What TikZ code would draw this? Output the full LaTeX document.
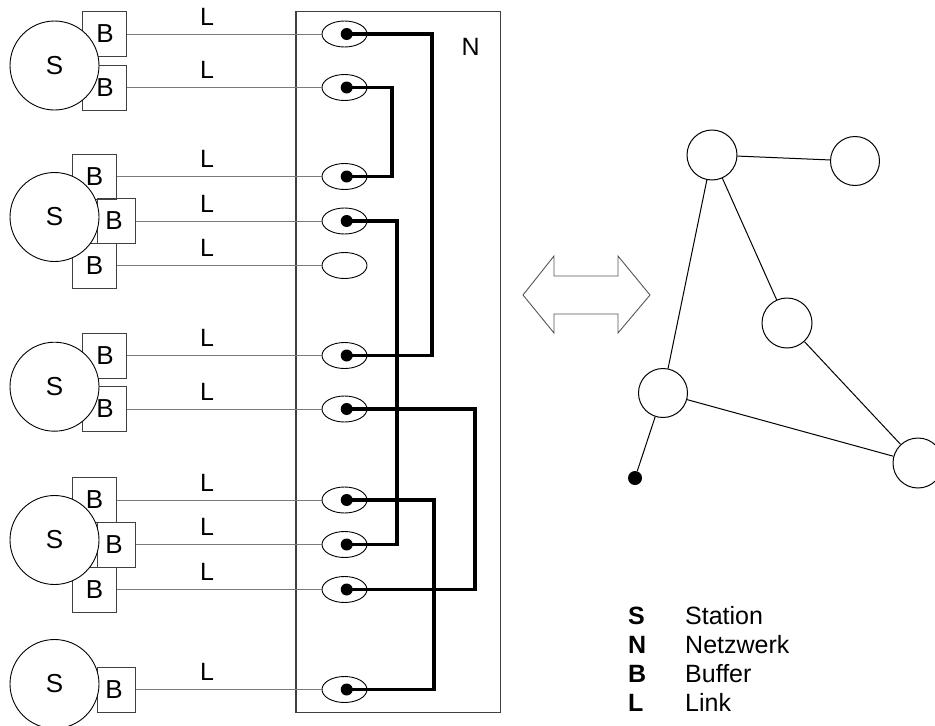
\documentclass[tikz,border=0pt]{standalone}
\usepackage{fontspec}
\setmainfont{Liberation Sans}
\usetikzlibrary{shapes.geometric}
\definecolor{linkgray}{HTML}{7A7A7A}
\definecolor{boxgray}{HTML}{404040}
\definecolor{arrgray}{HTML}{555555}
\tikzset{
  txt/.style={font=\fontsize{26}{30}\selectfont, inner sep=0pt},
  bufbox/.style={draw=boxgray, line width=1pt, minimum height=45pt, inner sep=0pt},
  bufw/.style={bufbox, minimum width=44pt},
  bufn/.style={bufbox, minimum width=38pt},
  station/.style={circle, draw=black, line width=0.9pt, fill=white, minimum size=89pt, inner sep=0pt, font=\fontsize{26}{30}\selectfont},
  ell/.style={ellipse, draw=black, line width=0.9pt, minimum width=45pt, minimum height=26pt, inner sep=0pt},
  dotn/.style={circle, fill=black, minimum size=12pt, inner sep=0pt},
  link/.style={draw=linkgray, line width=1pt},
  wire/.style={draw=black, line width=3.5pt, line join=miter},
  gnode/.style={circle, draw=black, line width=1pt, fill=white, minimum size=50pt, inner sep=0pt},
  gedge/.style={draw=black, line width=1pt},
}
\begin{document}
\begin{tikzpicture}[x=1pt,y=-1pt]
\useasboundingbox (0,0) rectangle (935,726);
\clip (0,0) rectangle (935,726);
\fill[white] (0,0) rectangle (935,726);

% network box
\draw[draw=boxgray, line width=1.1pt] (296,11.7) rectangle (500.7,712.7);
\node[txt, font=\fontsize{25}{30}\selectfont] (nlab) at (470.7,47) {N};

% buffers
\node[bufw] (b11) at (104,34) {};
\node[bufw] (b12) at (104,87.5) {};
\node[bufw] (b21) at (94.5,176.5) {};
\node[bufw] (b23) at (94.5,265.5) {};
\node[bufn] (b22) at (116,221) {};
\node[bufw] (b31) at (104,355.5) {};
\node[bufw] (b32) at (104,409) {};
\node[bufw] (b41) at (94.5,500) {};
\node[bufw] (b43) at (94.5,589.5) {};
\node[bufn] (b42) at (116,544.5) {};
\node[bufn] (b51) at (116,689.5) {};

% stations
\node[station] (s1) at (54.5,65.5) {S};
\node[station] (s2) at (54.5,217) {S};
\node[station] (s3) at (54.5,386.7) {S};
\node[station] (s4) at (54.5,540) {S};
\node[station] (s5) at (54.5,684) {S};

% buffer labels
\foreach \b/\dx in {b11/1,b12/1,b21/0,b22/-2,b23/0,b31/1,b32/1,b41/0,b42/-2,b43/0,b51/-2}
  \node[txt] at ([xshift=\dx pt]\b.center) {B};

% ports
\foreach \i/\y in {1/34,2/87.5,3/176.5,4/221,5/265.5,6/355.5,7/409,8/500,9/544.5,10/589.5,11/689.5}
  \node[ell] (e\i) at (344.5,\y) {};

% links
\foreach \b/\e in {b11/e1,b12/e2,b21/e3,b22/e4,b23/e5,b31/e6,b32/e7,b41/e8,b42/e9,b43/e10,b51/e11}
  \draw[link] (\b.east) -- (\e.west);

% L labels
\foreach \i in {1,...,11}
  \node[txt, font=\fontsize{25}{30}\selectfont] at ([yshift=17.5pt]e\i.center -| 207,0) {L};

% dot positions
\foreach \i in {1,2,3,4,6,7,8,9,10,11}
  \coordinate (c\i) at ([xshift=2.2pt]e\i.center);

% wire columns
\coordinate (wA) at (432,0);
\coordinate (wB) at (392,0);
\coordinate (wC) at (397,0);
\coordinate (wD) at (475,0);
\coordinate (wE) at (434,0);
\draw[wire] (c1) -- (c1 -| wA) -- (c6 -| wA) -- (c6);
\draw[wire] (c2) -- (c2 -| wB) -- (c3 -| wB) -- (c3);
\draw[wire] (c4) -- (c4 -| wC) -- (c9 -| wC) -- (c9);
\draw[wire] (c7) -- (c7 -| wD) -- (c10 -| wD) -- (c10);
\draw[wire] (c8) -- (c8 -| wE) -- (c11 -| wE) -- (c11);
\foreach \i in {1,2,3,4,6,7,8,9,10,11}
  \node[dotn] (d\i) at (c\i) {};

% double arrow
\draw[draw=arrgray, line width=0.9pt, line join=miter]
  (523,295) -- (554,256) -- (554,276) -- (618,276) -- (618,256) -- (650,295)
  -- (618,333) -- (618,314) -- (554,314) -- (554,333) -- cycle;

% graph
\node[gnode] (g1) at (712,155) {};
\node[gnode, minimum size=49pt] (g2) at (855,161) {};
\node[gnode] (g3) at (787,323) {};
\node[gnode, minimum size=49pt] (g4) at (663,393) {};
\node[gnode] (g5) at (918,463) {};
\node[circle, fill=black, minimum size=14pt, inner sep=0pt] (gd) at (635,478) {};
\draw[gedge] (g1) -- (g2);
\draw[gedge] (g1) -- (g4);
\draw[gedge] (g1) -- (g3);
\draw[gedge] (g3) -- (g5);
\draw[gedge] (g4) -- (g5);
\draw[gedge] (g4) -- (gd);

% legend
\foreach \k/\t/\y in {S/Station/615.5,N/Netzwerk/644.5,B/Buffer/673.5,L/Link/702.5}{
  \node[txt, anchor=west, font=\fontsize{25}{30}\selectfont\bfseries] (k\k) at (628,\y) {\k};
  \node[txt, anchor=west, font=\fontsize{25}{30}\selectfont] (t\k) at (685,\y) {\t};
}
\end{tikzpicture}
\end{document}
